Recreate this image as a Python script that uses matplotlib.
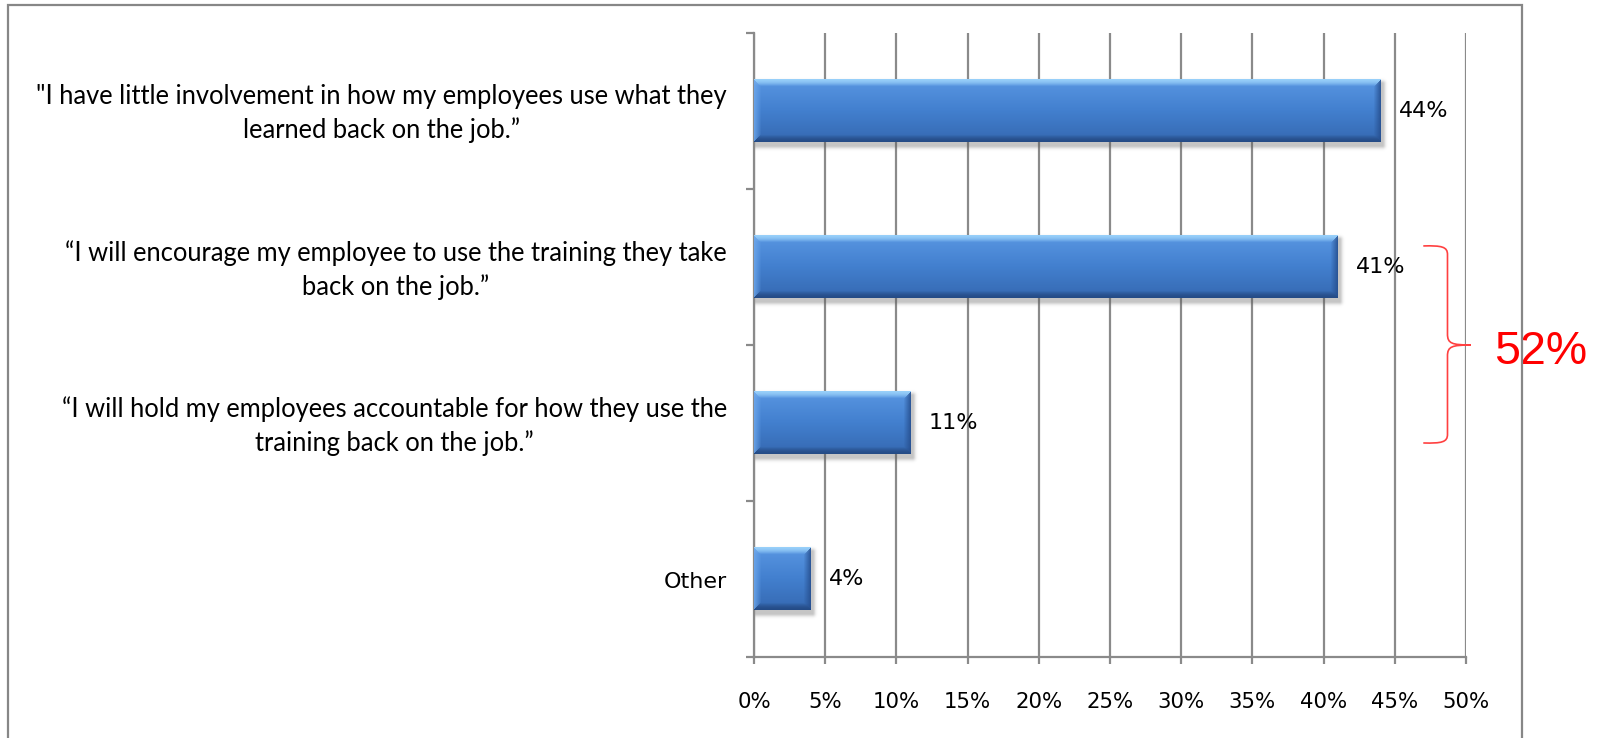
import numpy as np
import matplotlib
matplotlib.use("Agg")
from matplotlib import pyplot as plt
from matplotlib.patches import Rectangle, PathPatch
from matplotlib.path import Path

# survey answers, top to bottom
answers = [
    "\"I have little involvement in how my employees use what they\nlearned back on the job.\u201d",
    "\u201cI will encourage my employee to use the training they take\nback on the job.\u201d",
    "\u201cI will hold my employees accountable for how they use the\ntraining back on the job.\u201d",
    "Other",
]
shares = [44, 41, 11, 4]
xticks = [0, 5, 10, 15, 20, 25, 30, 35, 40, 45, 50]
combined = shares[1] + shares[2]  # the two "hands-on" answers

W, H = 1602, 738
grey = "#8a8a8a"

fig = plt.figure(figsize=(W / 100, H / 100), dpi=100)
ax = fig.add_axes([754 / W, 1 - 657 / H, (1466 - 754) / W, (657 - 33) / H])

ypos = np.arange(len(shares))
bars = ax.barh(ypos, shares, height=0.40, color="none", zorder=3)

ax.set_xlim(0, 50)
ax.set_ylim(len(shares) - 0.5, -0.5)
ax.set_xticks(xticks)
ax.set_xticklabels([f"{t}%" for t in xticks], fontsize=15.3, family="DejaVu Sans")
ax.set_yticks(np.arange(-0.5, len(shares), 1.0))
ax.set_yticklabels([])
ax.tick_params(axis="x", direction="out", length=5, width=1.6, color=grey, pad=20)
ax.tick_params(axis="y", direction="out", length=6, width=1.6, color=grey)
ax.xaxis.grid(True, color=grey, lw=1.6)
ax.set_axisbelow(True)
for s in ["top", "right"]:
    ax.spines[s].set_visible(False)
for s in ["left", "bottom"]:
    ax.spines[s].set_color(grey)
    ax.spines[s].set_linewidth(1.6)


def bar_image(h, w):
    # vertical gradient with a bevelled frame, like office 3d bars
    t = np.linspace(0, 1, h)
    stops = [0, 0.1, 0.5, 0.9, 1.0]
    cols = np.array([[0.56, 0.77, 0.96], [0.33, 0.57, 0.87], [0.26, 0.50, 0.81],
                     [0.22, 0.43, 0.72], [0.16, 0.32, 0.56]])
    grad = np.stack([np.interp(t, stops, cols[:, k]) for k in range(3)], axis=-1)
    img = np.repeat(grad[:, None, :], w, axis=1)
    yy = np.arange(h)[:, None] + np.zeros((1, w))
    xx = np.arange(w)[None, :] + np.zeros((h, 1))
    d = np.stack([yy, h - 1 - yy, xx, w - 1 - xx])
    near = d.argmin(0)
    dmin = d.min(0)
    edge = np.array([[0.60, 0.82, 0.98], [0.14, 0.29, 0.52],
                     [0.42, 0.65, 0.92], [0.15, 0.31, 0.56]])
    b = 7.0
    wgt = np.clip(1 - dmin / b, 0, 1)[..., None] * 0.85
    img = img * (1 - wgt) + edge[near] * wgt
    return np.clip(img, 0, 1)


def shadow_image(h, w, s=7):
    yy = np.arange(h + 2 * s)[:, None] - s
    xx = np.arange(w + 2 * s)[None, :] - s
    dx = np.maximum(np.maximum(-xx, xx - (w - 1)), 0)
    dy = np.maximum(np.maximum(-yy, yy - (h - 1)), 0)
    dist = np.hypot(dx, dy)
    a = 0.35 * np.exp(-(dist / 3.0) ** 2)
    rgba = np.zeros((h + 2 * s, w + 2 * s, 4))
    rgba[..., :3] = 0.35
    rgba[..., 3] = a
    return rgba


inv = ax.transData.inverted()
for p in bars.patches:
    x0, y0 = p.get_x(), p.get_y()
    x1, y1 = x0 + p.get_width(), y0 + p.get_height()
    (px0, py_top), (px1, py_bot) = ax.transData.transform([(x0, y0), (x1, y1)])
    w = max(int(round(px1 - px0)), 2)
    h = max(int(round(py_top - py_bot)), 2)
    # soft shadow, shifted right and down
    s = 7
    (sx0, sy0) = inv.transform((px0 - s + 2, py_top + s - 4))
    (sx1, sy1) = inv.transform((px1 + s + 2, py_bot - s - 4))
    ax.imshow(shadow_image(h, w, s), extent=(sx0, sx1, sy1, sy0), origin="upper",
              aspect="auto", zorder=2.5, interpolation="bilinear")
    ax.imshow(bar_image(h, w), extent=(x0, x1, y1, y0), origin="upper",
              aspect="auto", zorder=3, interpolation="bilinear")

ax.set_xlim(0, 50)
ax.set_ylim(len(shares) - 0.5, -0.5)

# value labels
for y, v in zip(ypos, shares):
    ax.annotate(f"{v}%", xy=(v, y), xytext=(13, 0), textcoords="offset points",
                ha="left", va="center", fontsize=16, family="DejaVu Sans")

# category labels
for y, txt in zip(ypos, answers):
    if txt == "Other":
        fam, fs = ["DejaVu Sans"], 16
    else:
        fam, fs = ["Lato", "DejaVu Sans"], 18.4
    ax.annotate(txt, xy=(0, y), xytext=(-19.5, -2), textcoords="offset points",
                ha="right", va="center", multialignment="center",
                fontsize=fs, family=fam, linespacing=1.4)

# red brace joining the two middle answers
top, mid, bot = 0.865, 1.5, 2.128
xl, xv, xt = 47.0, 48.7, 50.35
verts = [
    (xl, top), (48.3, top - 0.003), (xv, top + 0.005), (xv, top + 0.055),
    (xv, mid - 0.07),
    (xv, mid - 0.01), (49.0, mid), (xt, mid),
    (49.0, mid), (xv, mid + 0.01), (xv, mid + 0.07),
    (xv, bot - 0.055),
    (xv, bot - 0.005), (48.3, bot + 0.003), (xl, bot),
]
codes = [Path.MOVETO, Path.CURVE4, Path.CURVE4, Path.CURVE4, Path.LINETO,
         Path.CURVE4, Path.CURVE4, Path.CURVE4,
         Path.CURVE4, Path.CURVE4, Path.CURVE4, Path.LINETO,
         Path.CURVE4, Path.CURVE4, Path.CURVE4]
brace = PathPatch(Path(verts, codes), fill=False, ec="#ff4040", lw=1.2,
                  clip_on=False, zorder=5)
ax.add_patch(brace)
ax.text(52.0, 1.545, f"{combined}%", color="#ff0000", fontsize=33.5,
        family="Liberation Sans", ha="left", va="center", clip_on=False)

# frame round the whole chart
fig.patches.append(Rectangle((8 / W, -0.2), (1522 - 8) / W, (H - 5) / H + 0.2,
                             transform=fig.transFigure, fill=False,
                             ec="#878787", lw=1.6))

fig.savefig("out.png", dpi=100)
